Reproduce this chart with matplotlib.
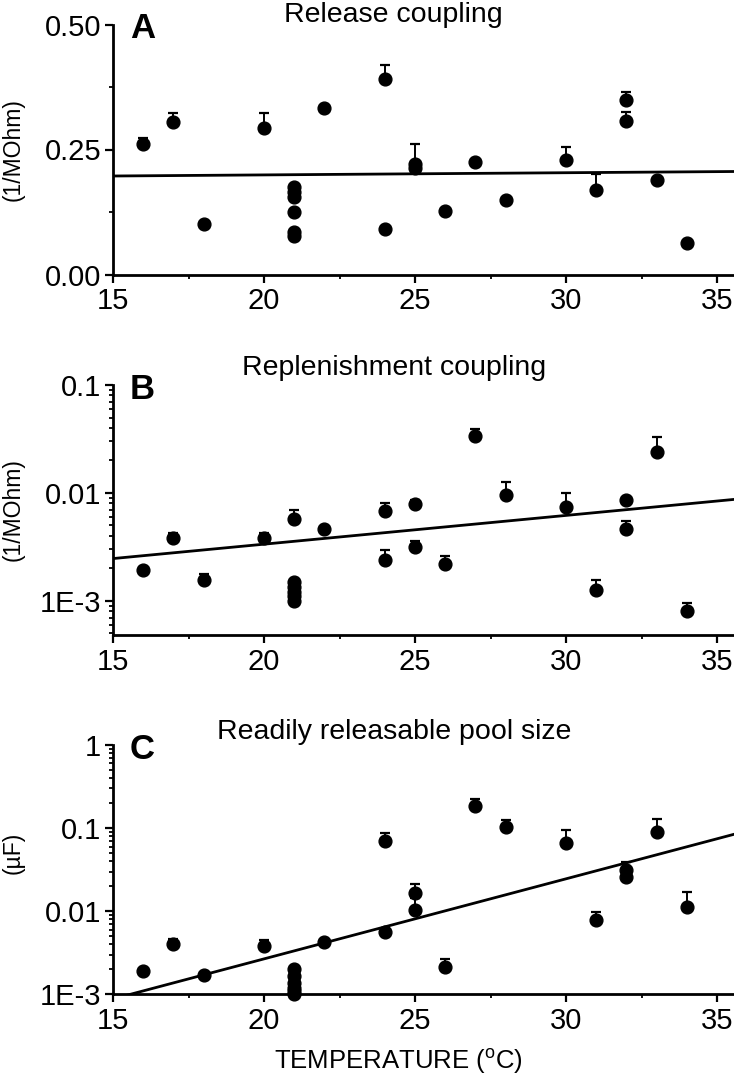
import numpy as np
import matplotlib
matplotlib.use("Agg")
import matplotlib.pyplot as plt
from matplotlib.ticker import LogLocator, NullFormatter, FixedLocator, FixedFormatter

plt.rcParams['font.family'] = ['Liberation Sans', 'DejaVu Sans']

# ---------------- data ----------------
temperature = [16, 17, 18, 20, 21, 21, 21, 21, 21, 21, 22, 24, 24, 25, 25,
               26, 27, 28, 30, 31, 32, 32, 33, 34]

release = [0.261, 0.306, 0.102, 0.294, 0.175, 0.165, 0.155, 0.126, 0.085, 0.077,
           0.334, 0.392, 0.092, 0.222, 0.214, 0.127, 0.226, 0.149, 0.230, 0.170,
           0.350, 0.308, 0.189, 0.064]
release_err = [0.013, 0.017, 0.0, 0.030, 0.0, 0.0, 0.0, 0.0, 0.0, 0.0,
               0.0, 0.027, 0.0, 0.040, 0.0, 0.0, 0.0, 0.0, 0.026, 0.032,
               0.016, 0.018, 0.0, 0.0]
release_fit_x = [15, 35.6]
release_fit_y = [0.197, 0.206]

replen = [1.95e-3, 3.86e-3, 1.56e-3, 3.83e-3, 5.71e-3, 1.5e-3, 1.35e-3, 1.2e-3, 1.1e-3, 1.0e-3,
          4.61e-3, 6.8e-3, 2.42e-3, 7.86e-3, 3.16e-3, 2.22e-3, 0.0335, 9.5e-3, 7.42e-3, 1.26e-3,
          8.55e-3, 4.68e-3, 0.024, 8.07e-4]
replen_err = [0.1e-3, 0.44e-3, 0.2e-3, 0.45e-3, 1.2e-3, 0.0, 0.0, 0.0, 0.0, 0.0,
              0.0, 1.3e-3, 0.57e-3, 0.8e-3, 0.4e-3, 0.38e-3, 0.006, 3.1e-3, 2.5e-3, 0.32e-3,
              0.0, 0.8e-3, 0.009, 1.5e-4]
replen_fit_x = [15, 35.6]
replen_fit_y = [2.47e-3, 8.74e-3]

pool = [1.89e-3, 4.0e-3, 1.69e-3, 3.8e-3, 2.0e-3, 1.66e-3, 1.37e-3, 1.2e-3, 1.1e-3, 1.02e-3,
        4.3e-3, 0.0697, 5.58e-3, 0.01665, 0.0103, 2.11e-3, 0.184, 0.104, 0.0653, 7.94e-3,
        0.0312, 0.026, 0.0895, 0.0113]
pool_err = [0.0, 0.6e-3, 0.1e-3, 0.7e-3, 0.1e-3, 0.0, 0.0, 0.0, 0.0, 0.0,
            0.0, 0.017, 0.0, 0.0047, 0.004, 0.56e-3, 0.042, 0.02, 0.029, 1.9e-3,
            0.008, 0.0, 0.04, 0.0057]
pool_fit_x = [15, 35.6]
pool_fit_y = [8.8e-4, 0.085]

x_ticks = [15, 20, 25, 30, 35]
x_minor = [17.5, 22.5, 27.5, 32.5]

A_ticks = [0.0, 0.25, 0.5]
A_labels = ["0.00", "0.25", "0.50"]
A_minor = [0.125, 0.375]
B_ticks = [1e-3, 1e-2, 1e-1]
B_labels = ["1E-3", "0.01", "0.1"]
C_ticks = [1e-3, 1e-2, 1e-1, 1]
C_labels = ["1E-3", "0.01", "0.1", "1"]

titles = ["Release coupling", "Replenishment coupling", "Readily releasable pool size"]
letters = ["A", "B", "C"]
ylabels = ["(1/MOhm)", "(1/MOhm)", "(\u00b5F)"]
xlabel = "TEMPERATURE ($^{\\mathregular{o}}$C)"

# ---------------- figure ----------------
W, H = 734, 1076
fig = plt.figure(figsize=(W / 100, H / 100), dpi=100)

left = 113 / W
width = 1 - left
panels = [(24.5, 274.5), (385, 635), (745, 994.3)]
axes = []
for top, bot in panels:
    ax = fig.add_axes([left, 1 - bot / H, width, (bot - top) / H])
    axes.append(ax)

datasets = [
    (release, release_err, release_fit_x, release_fit_y),
    (replen, replen_err, replen_fit_x, replen_fit_y),
    (pool, pool_err, pool_fit_x, pool_fit_y),
]

title_y = [1.012, 1.04, 1.023]
ylabel_y = [149.5, 510, 853]

for i, ax in enumerate(axes):
    vals, errs, fx, fy = datasets[i]
    if i > 0:
        ax.set_yscale('log')
    ax.plot(fx, fy, color='black', lw=2.0, zorder=2, clip_on=True)
    ax.errorbar(temperature, vals, yerr=[np.zeros(len(errs)), errs], fmt='o',
                ms=9.2, color='black', ecolor='black', elinewidth=1.4,
                capsize=3.4, capthick=1.6, zorder=3, clip_on=False)
    ax.set_xlim(15, 35.56)
    ax.set_xticks(x_ticks)
    ax.set_xticks(x_minor, minor=True)
    ax.set_xticklabels([str(t) for t in x_ticks])
    for s in ['top', 'right']:
        ax.spines[s].set_visible(False)
    for s in ['left', 'bottom']:
        ax.spines[s].set_linewidth(2.0)
    ax.tick_params(which='major', direction='out', length=6, width=1.6,
                   labelsize=21, pad=2.5)
    ax.tick_params(which='minor', direction='out', length=3, width=1.3)
    ax.tick_params(axis='x', which='major', pad=3)

    ax.text(0.452, title_y[i], titles[i], transform=ax.transAxes,
            ha='center', va='baseline', fontsize=20.5)
    ax.text(0.027, 0.945, letters[i], transform=ax.transAxes,
            ha='left', va='baseline', fontsize=25, fontweight='bold')
    fig.text(13 / W, 1 - ylabel_y[i] / H, ylabels[i], rotation=90,
             ha='center', va='center', fontsize=16.5)

# panel A y axis
axA, axB, axC = axes
axA.set_ylim(0, 0.5)
axA.set_yticks(A_ticks)
axA.set_yticklabels(A_labels)
axA.set_yticks(A_minor, minor=True)

axB.set_ylim(4.84e-4, 0.1)
axB.yaxis.set_major_locator(FixedLocator(B_ticks))
axB.yaxis.set_major_formatter(FixedFormatter(B_labels))
axB.yaxis.set_minor_locator(LogLocator(base=10, subs=np.arange(2, 10), numticks=20))
axB.yaxis.set_minor_formatter(NullFormatter())

axC.set_ylim(1e-3, 1)
axC.yaxis.set_major_locator(FixedLocator(C_ticks))
axC.yaxis.set_major_formatter(FixedFormatter(C_labels))
axC.yaxis.set_minor_locator(LogLocator(base=10, subs=np.arange(2, 10), numticks=20))
axC.yaxis.set_minor_formatter(NullFormatter())

fig.text(398 / W, 1 - 1069 / H, xlabel, ha='center', va='baseline', fontsize=18.5)

fig.savefig("out.png", dpi=100)
